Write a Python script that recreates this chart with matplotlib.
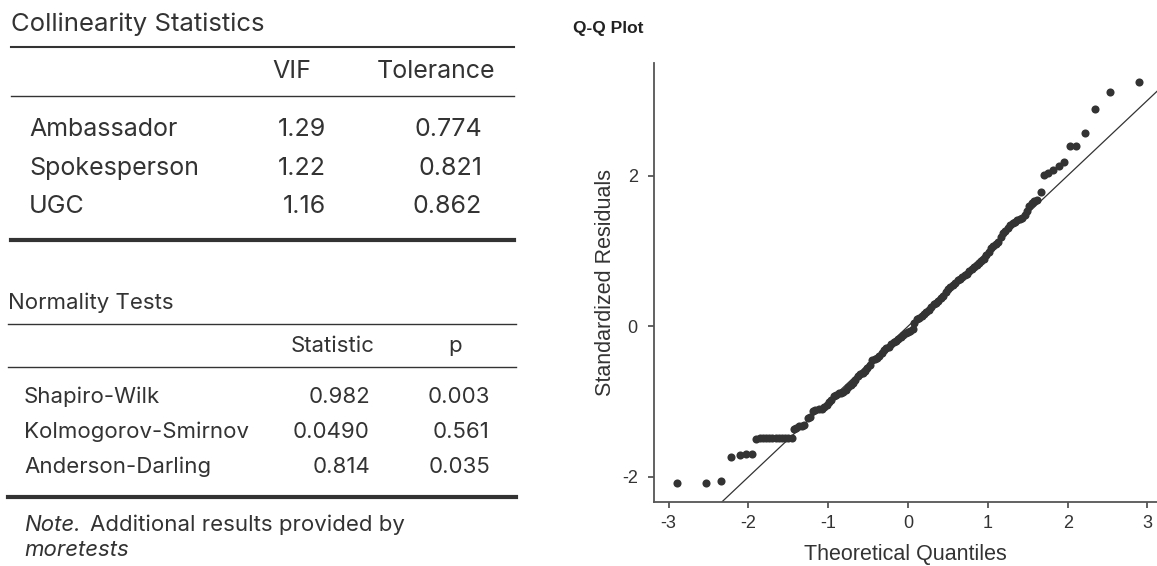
import matplotlib
matplotlib.use('Agg')
import matplotlib.pyplot as plt
from matplotlib.lines import Line2D

plt.rcParams['axes.unicode_minus'] = False

W, H = 1157, 566

# collinearity table
coll_rows = ['Ambassador', 'Spokesperson', 'UGC']
coll_vif = ['1.29', '1.22', '1.16']
coll_tol = ['0.774', '0.821', '0.862']

# normality table
norm_rows = ['Shapiro-Wilk', 'Kolmogorov-Smirnov', 'Anderson-Darling']
norm_stat = ['0.982', '0.0490', '0.814']
norm_p = ['0.003', '0.561', '0.035']

# Q-Q points
qq_x = [-2.89, -2.53, -2.35, -2.22, -2.11, -2.03, -1.96,
        -1.90, -1.86, -1.82, -1.78, -1.74, -1.70, -1.66, -1.62, -1.58, -1.54, -1.50, -1.46,
        -1.43, -1.40, -1.37, -1.33, -1.30, -1.26, -1.23, -1.19, -1.16, -1.12, -1.08, -1.05,
        -1.02, -0.99, -0.96, -0.93, -0.90, -0.87, -0.84, -0.81, -0.78, -0.75, -0.72, -0.69,
        -0.66, -0.63, -0.60, -0.57, -0.54, -0.51, -0.48, -0.45, -0.42, -0.39, -0.36, -0.33,
        -0.30, -0.27, -0.24, -0.21, -0.18, -0.15, -0.12, -0.09, -0.06, -0.03, 0.00, 0.03,
        0.06, 0.08, 0.11, 0.14, 0.17, 0.20, 0.23, 0.26, 0.29, 0.32, 0.35, 0.38, 0.41, 0.44,
        0.47, 0.50, 0.53, 0.56, 0.59, 0.62, 0.65, 0.68, 0.71, 0.74, 0.77, 0.80, 0.83, 0.86,
        0.89, 0.92, 0.95, 0.98, 1.01, 1.04, 1.07, 1.10, 1.13, 1.16, 1.19, 1.22, 1.25, 1.28,
        1.31, 1.34, 1.37, 1.40, 1.43, 1.46, 1.49, 1.52, 1.55, 1.58, 1.61, 1.66,
        1.71, 1.76, 1.82, 1.89, 1.96, 2.03, 2.11, 2.22, 2.34, 2.53, 2.89]
qq_y = [-2.08, -2.08, -2.06, -1.73, -1.71, -1.69, -1.69,
        -1.50, -1.49, -1.49, -1.49, -1.49, -1.49, -1.49, -1.49, -1.49, -1.49, -1.49, -1.48,
        -1.36, -1.35, -1.33, -1.32, -1.31, -1.22, -1.20, -1.13, -1.11, -1.10, -1.10, -1.07,
        -1.04, -1.01, -0.98, -0.93, -0.91, -0.89, -0.88, -0.87, -0.84, -0.81, -0.78, -0.75,
        -0.72, -0.66, -0.63, -0.62, -0.59, -0.55, -0.51, -0.45, -0.44, -0.42, -0.39, -0.35,
        -0.32, -0.29, -0.27, -0.24, -0.21, -0.19, -0.17, -0.14, -0.11, -0.09, -0.07, -0.06,
        -0.04, 0.04, 0.09, 0.11, 0.13, 0.16, 0.19, 0.22, 0.26, 0.29, 0.31, 0.33, 0.37, 0.40,
        0.45, 0.49, 0.52, 0.55, 0.58, 0.61, 0.63, 0.65, 0.68, 0.70, 0.73, 0.76, 0.79, 0.82,
        0.84, 0.87, 0.89, 0.94, 0.98, 1.04, 1.07, 1.09, 1.12, 1.19, 1.24, 1.27, 1.30, 1.34,
        1.37, 1.39, 1.41, 1.43, 1.44, 1.48, 1.53, 1.60, 1.64, 1.66, 1.68, 1.78,
        2.01, 2.04, 2.08, 2.13, 2.18, 2.39, 2.40, 2.56, 2.89, 3.11, 3.24]

txt = '#333333'
tfont = ['Inter', 'DejaVu Sans']

fig = plt.figure(figsize=(W / 100, H / 100), dpi=100)


def px(x, y):
    return x / W, 1 - y / H


def put(x, y, s, size, ha='left', **kw):
    fig.text(*px(x, y), s, fontsize=size, ha=ha, va='center', color=txt,
             family=tfont, **kw)


def rule(x0, x1, y, lw):
    a, b = px(x0, y)
    c, _ = px(x1, y)
    fig.add_artist(Line2D([a, c], [b, b], color=txt, lw=lw,
                          transform=fig.transFigure))


# collinearity statistics
put(11, 24, 'Collinearity Statistics', 18.5)
rule(11, 514, 47, 1.5)
put(291.5, 72, 'VIF', 18, ha='center')
put(495, 72, 'Tolerance', 18, ha='right')
rule(11, 514, 96, 1.0)
for i, name in enumerate(coll_rows):
    y = 130 + i * 38.5
    put(29, y, name, 18)
    put(326, y, coll_vif[i], 18, ha='right')
    put(482, y, coll_tol[i], 18, ha='right')
rule(11, 514, 240, 3.0)

# normality tests
put(8, 303, 'Normality Tests', 16)
rule(8, 516, 324, 1.0)
put(375, 346, 'Statistic', 16, ha='right')
put(455, 346, 'p', 16, ha='center')
rule(8, 516, 367, 1.0)
for i, name in enumerate(norm_rows):
    y = 397 + i * 35
    put(24, y, name, 16)
    put(370, y, norm_stat[i], 16, ha='right')
    put(490, y, norm_p[i], 16, ha='right')
rule(8, 516, 497, 3.0)
put(24, 525, 'Note.', 16, style='italic')
put(90, 525, 'Additional results provided by', 16)
put(24, 550, 'moretests', 16, style='italic')

# Q-Q plot
ax = fig.add_axes([654.3 / W, 1 - 501.7 / H, (W - 654.3) / W, (501.7 - 62.7) / H])
ax.scatter(qq_x, qq_y, s=34, color='#333333', zorder=3, linewidths=0)
ax.axline((0, 0), slope=1, color='#333333', lw=0.9)
ax.set_xlim(-3.18, 3.12)
ax.set_ylim(-2.33, 3.50)
ax.set_xticks([-3, -2, -1, 0, 1, 2, 3])
ax.set_yticks([-2, 0, 2])
for s in ['top', 'right']:
    ax.spines[s].set_visible(False)
for s in ['left', 'bottom']:
    ax.spines[s].set_color('#555555')
    ax.spines[s].set_linewidth(1.3)
ax.tick_params(colors='#555555', labelcolor='#333333', length=4, width=1.3,
               labelsize=13)
ax.tick_params(axis='x', pad=5.5)
ax.tick_params(axis='y', pad=8)
for lab in ax.get_xticklabels() + ax.get_yticklabels():
    lab.set_family('Liberation Sans')
ax.set_xlabel('Theoretical Quantiles', fontsize=15.5, color='#333333',
              family='Liberation Sans', labelpad=9)
ax.set_ylabel('Standardized Residuals', fontsize=15.5, color='#333333',
              family='Liberation Sans', labelpad=4)
fig.text(*px(573, 28), 'Q-Q Plot', fontsize=12.5, weight='bold', color='#222222',
         family='Liberation Sans', va='center')

fig.savefig('out.png', dpi=100)
